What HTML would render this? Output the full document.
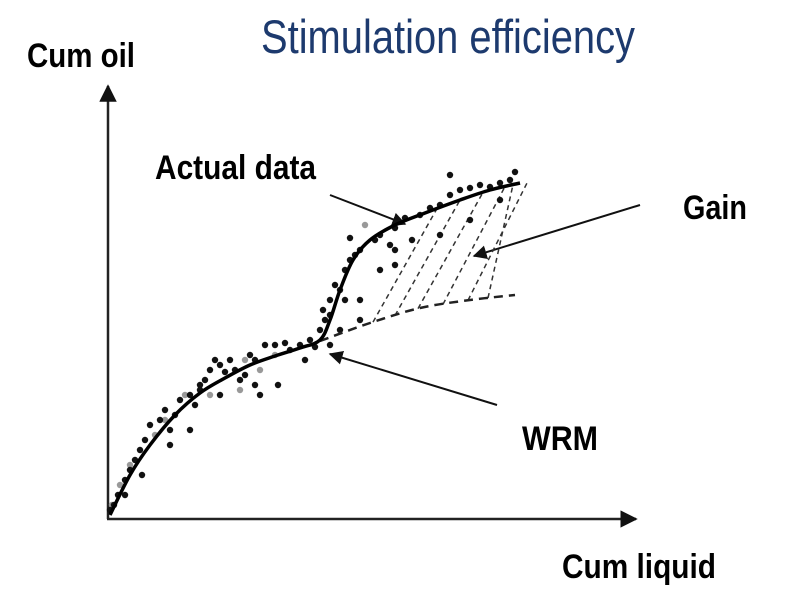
<!DOCTYPE html>
<html><head><meta charset="utf-8"><style>
html,body{margin:0;padding:0;background:#fff;}
svg{display:block;}
text{font-family:"Liberation Sans Narrow","Liberation Sans",sans-serif;}
</style></head><body>
<svg id="chart" width="800" height="600" viewBox="0 0 800 600" xmlns="http://www.w3.org/2000/svg">
<defs><marker id="ah" viewBox="0 0 10 10" refX="9" refY="5" markerWidth="7" markerHeight="7" orient="auto"><path d="M0,0 L10,5 L0,10 z" fill="#111"/></marker></defs>
<text x="261" y="53" font-size="47" fill="#1d3a6e" textLength="374" lengthAdjust="spacingAndGlyphs">Stimulation efficiency</text>
<text x="27" y="67" font-size="34" font-weight="bold" fill="#000" textLength="108" lengthAdjust="spacingAndGlyphs">Cum oil</text>
<text x="562" y="578" font-size="34" font-weight="bold" fill="#000" textLength="154" lengthAdjust="spacingAndGlyphs">Cum liquid</text>
<text x="155" y="179" font-size="34" font-weight="bold" fill="#000" textLength="161" lengthAdjust="spacingAndGlyphs">Actual data</text>
<text x="683" y="219" font-size="34" font-weight="bold" fill="#000" textLength="64" lengthAdjust="spacingAndGlyphs">Gain</text>
<text x="522" y="450" font-size="34" font-weight="bold" fill="#000" textLength="76" lengthAdjust="spacingAndGlyphs">WRM</text>
<line x1="108" y1="519" x2="108" y2="86" stroke="#222" stroke-width="2.5" marker-end="url(#ah)"/>
<line x1="107" y1="519" x2="636" y2="519" stroke="#222" stroke-width="2.5" marker-end="url(#ah)"/>
<line x1="330" y1="195" x2="405" y2="224" stroke="#111" stroke-width="2" marker-end="url(#ah)"/>
<line x1="640" y1="205" x2="474" y2="256" stroke="#111" stroke-width="2" marker-end="url(#ah)"/>
<line x1="497" y1="405" x2="330" y2="354" stroke="#111" stroke-width="2" marker-end="url(#ah)"/>
<g id="marks"></g>
</svg>
<script>
// data units: x 0..529, y 0..433
const curveX=[2,22,42,67,92,117,142,167,192,212,222,232,245,262,287,317,352,382,412];
const curveY=[3,43,73,103,125,140,153,162,170,178,198,228,258,278,293,305,318,328,335];
const wrmX=[212,262,312,362,407];
const wrmY=[177,195,210,218,223];
const hatchStartX=[265,287,310,335,360,380];
const hatchEndX=[329,352,375,397,419,405];
const blackX=[6,10,17,22,27,32,37,42,52,57,67,62,72,82,87,92,97,102,107,112,117,122,127,132,137,142,147,157,167,177,182,192,202,207,212,217,222,215,222,227,232,237,242,247,232,237,252,267,242,272,287,297,312,322,332,342,352,362,372,382,392,402,407,342,287,282,304,332,362,392,222,197,170,147,152,92,112,82,62,34,17,2,272,287,252,252];
const blackY=[13,23,38,48,58,68,78,93,98,108,103,88,118,123,113,133,138,148,158,153,146,158,148,138,143,163,158,173,173,175,168,173,178,171,188,198,203,208,218,233,228,248,258,263,188,218,268,278,280,283,290,300,303,310,313,323,328,330,333,331,335,338,346,343,268,273,278,283,298,318,173,158,133,133,123,128,123,88,73,43,23,8,248,253,218,198];
const greyX=[4,12,22,47,57,77,102,132,137,152,167,257];
const greyY=[13,33,53,83,98,123,123,128,158,148,163,293];
const px=v=>108+v, py=v=>518-v;
const g=document.getElementById('marks');
const NS='http://www.w3.org/2000/svg';
function interp(xs,ys,x){for(let i=0;i<xs.length-1;i++){if(x>=xs[i]&&x<=xs[i+1]){const t=(x-xs[i])/(xs[i+1]-xs[i]);return ys[i]+t*(ys[i+1]-ys[i]);}}return ys[ys.length-1];}
function smooth(xs,ys){const P=xs.map((x,i)=>[px(x),py(ys[i])]);let d='M'+P[0][0]+','+P[0][1];
for(let i=0;i<P.length-1;i++){const p0=P[Math.max(0,i-1)],p1=P[i],p2=P[i+1],p3=P[Math.min(P.length-1,i+2)];
const c1=[p1[0]+(p2[0]-p0[0])/6,p1[1]+(p2[1]-p0[1])/6],c2=[p2[0]-(p3[0]-p1[0])/6,p2[1]-(p3[1]-p1[1])/6];
d+=' C'+c1[0]+','+c1[1]+' '+c2[0]+','+c2[1]+' '+p2[0]+','+p2[1];}return d;}
hatchStartX.forEach((x0,i)=>{const l=document.createElementNS(NS,'line');


l.setAttribute('x1',px(x0));l.setAttribute('y1',py(interp(wrmX,wrmY,x0)));
l.setAttribute('x2',px(hatchEndX[i]));l.setAttribute('y2',py(interp(curveX,curveY,hatchEndX[i])));
l.setAttribute('stroke','#333');l.setAttribute('stroke-width','1.5');l.setAttribute('stroke-dasharray','5,4');g.appendChild(l);});
greyX.forEach((x,i)=>{const c=document.createElementNS(NS,'circle');


c.setAttribute('cx',px(x));c.setAttribute('cy',py(greyY[i]));c.setAttribute('r','3.2');c.setAttribute('fill','#999');g.appendChild(c);});
blackX.forEach((x,i)=>{const c=document.createElementNS(NS,'circle');


c.setAttribute('cx',px(x));c.setAttribute('cy',py(blackY[i]));c.setAttribute('r','3.2');c.setAttribute('fill','#111');g.appendChild(c);});
const w=document.createElementNS(NS,'path');


w.setAttribute('d',smooth(wrmX,wrmY));
w.setAttribute('fill','none');w.setAttribute('stroke','#222');w.setAttribute('stroke-width','2.5');w.setAttribute('stroke-dasharray','9,6');g.appendChild(w);
const p=document.createElementNS(NS,'path');


p.setAttribute('d',smooth(curveX,curveY));
p.setAttribute('fill','none');p.setAttribute('stroke','#000');p.setAttribute('stroke-width','3.5');p.setAttribute('stroke-linejoin','round');g.appendChild(p);
</script>
</body></html>
